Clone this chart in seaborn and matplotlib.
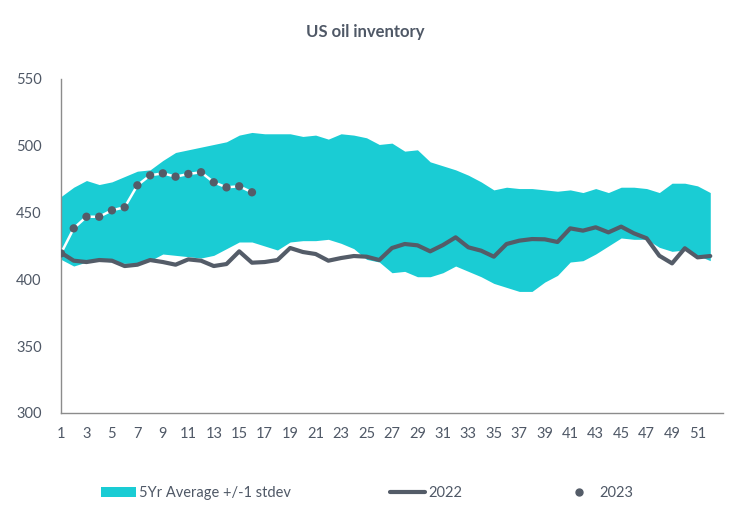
import numpy as np
import pandas as pd
import matplotlib.pyplot as plt
import seaborn as sns
from matplotlib.patches import Patch
from matplotlib.lines import Line2D

# недели
weeks = list(range(1, 53))

# 5-летний коридор (+/-1 stdev)
band_upper = [462, 469, 474, 471, 473, 477, 481, 482, 489, 495, 497, 499, 501, 503, 508, 510,
              509, 509, 509, 507, 508, 505, 509, 508, 506, 501, 502, 496, 497, 488, 485, 482,
              478, 473, 467, 469, 468, 468, 467, 466, 467, 465, 468, 465, 469, 469, 468, 465,
              472, 472, 470, 465]
band_lower = [415, 410, 413, 414, 413, 412, 412, 414, 419, 418, 417, 416, 418, 423, 428, 428,
              425, 422, 428, 429, 429, 430, 427, 423, 415, 413, 405, 406, 402, 402, 405, 410,
              406, 402, 397, 394, 391, 391, 398, 403, 413, 414, 419, 425, 431, 430, 430, 424,
              421, 422, 418, 414]

# 2022
y2022 = [420, 414, 413, 414.5, 414, 410, 411, 414.5, 413, 411, 415, 414, 410, 411.5, 421, 412.5,
         413, 414.5, 423.5, 420.5, 419, 414, 416, 417.5, 417, 414.5, 423.5, 426.5, 425.5, 421, 425.7, 431.5,
         424, 421.5, 417, 426.5, 429, 430.2, 430, 428, 438.2, 436.5, 439, 435.2, 439.5, 434.5,
         430.8, 417.7, 412, 423.3, 416.5, 417.5]

# 2023
weeks_2023 = list(range(1, 17))
y2023 = [419.5, 438.2, 446.9, 446.9, 451.7, 454, 470.4, 477.9, 479.4, 476.9, 478.9, 480.2,
         472.7, 468.9, 469.7, 465.2]

cyan = '#1ACCD4'
grey = '#545C68'
axis_grey = '#8C8C8C'
text_grey = '#4F5866'

sns.set_style('white')
plt.rcParams['font.family'] = ['Lato', 'DejaVu Sans']

df22 = pd.DataFrame({'week': weeks, 'value': y2022})
df23 = pd.DataFrame({'week': weeks_2023, 'value': y2023})

fig = plt.figure(figsize=(7.49, 5.22), dpi=100)
ax = fig.add_axes([61 / 749, 1 - 413 / 522, (723 - 61) / 749, (413 - 79) / 522])

ax.fill_between(weeks, band_lower, band_upper, color=cyan, linewidth=0, zorder=1)
sns.lineplot(data=df22, x='week', y='value', ax=ax, color=grey, linewidth=3, zorder=3)
sns.lineplot(data=df23, x='week', y='value', ax=ax, color='white', linewidth=1.8, zorder=4)
sns.scatterplot(data=df23, x='week', y='value', ax=ax, color=grey, s=36, edgecolor='none', zorder=5)

ax.set_xlim(1, 53)
ax.set_ylim(300, 550)
ax.set_xticks(range(1, 53, 2))
ax.set_yticks(range(300, 551, 50))
ax.set_xlabel('')
ax.set_ylabel('')

for s in ['top', 'right']:
    ax.spines[s].set_visible(False)
for s in ['left', 'bottom']:
    ax.spines[s].set_color(axis_grey)
    ax.spines[s].set_linewidth(1)

ax.tick_params(axis='x', direction='out', length=4, width=1, color=axis_grey,
               labelcolor=text_grey, labelsize=10.5, pad=6)
ax.tick_params(axis='y', length=0, labelcolor=text_grey, labelsize=10.5, pad=14)

fig.text(0.487, 1 - 32 / 522, 'US oil inventory', ha='center', va='center',
         fontsize=12, fontweight='bold', color=text_grey)

handles = [
    Patch(facecolor=cyan, edgecolor='none'),
    Line2D([0], [0], color=grey, linewidth=3),
    Line2D([0], [0], color=grey, marker='o', linestyle='none', markersize=5),
]
labels = ['5Yr Average +/-1 stdev', '2022', '2023']
fig.legend(handles, labels, loc='center', bbox_to_anchor=(0.49, 1 - 493 / 522), ncol=3,
           frameon=False, fontsize=10.5, labelcolor=text_grey, handlelength=2.4,
           handletextpad=0.2, columnspacing=6.8)

fig.savefig('out.png', dpi=100)
